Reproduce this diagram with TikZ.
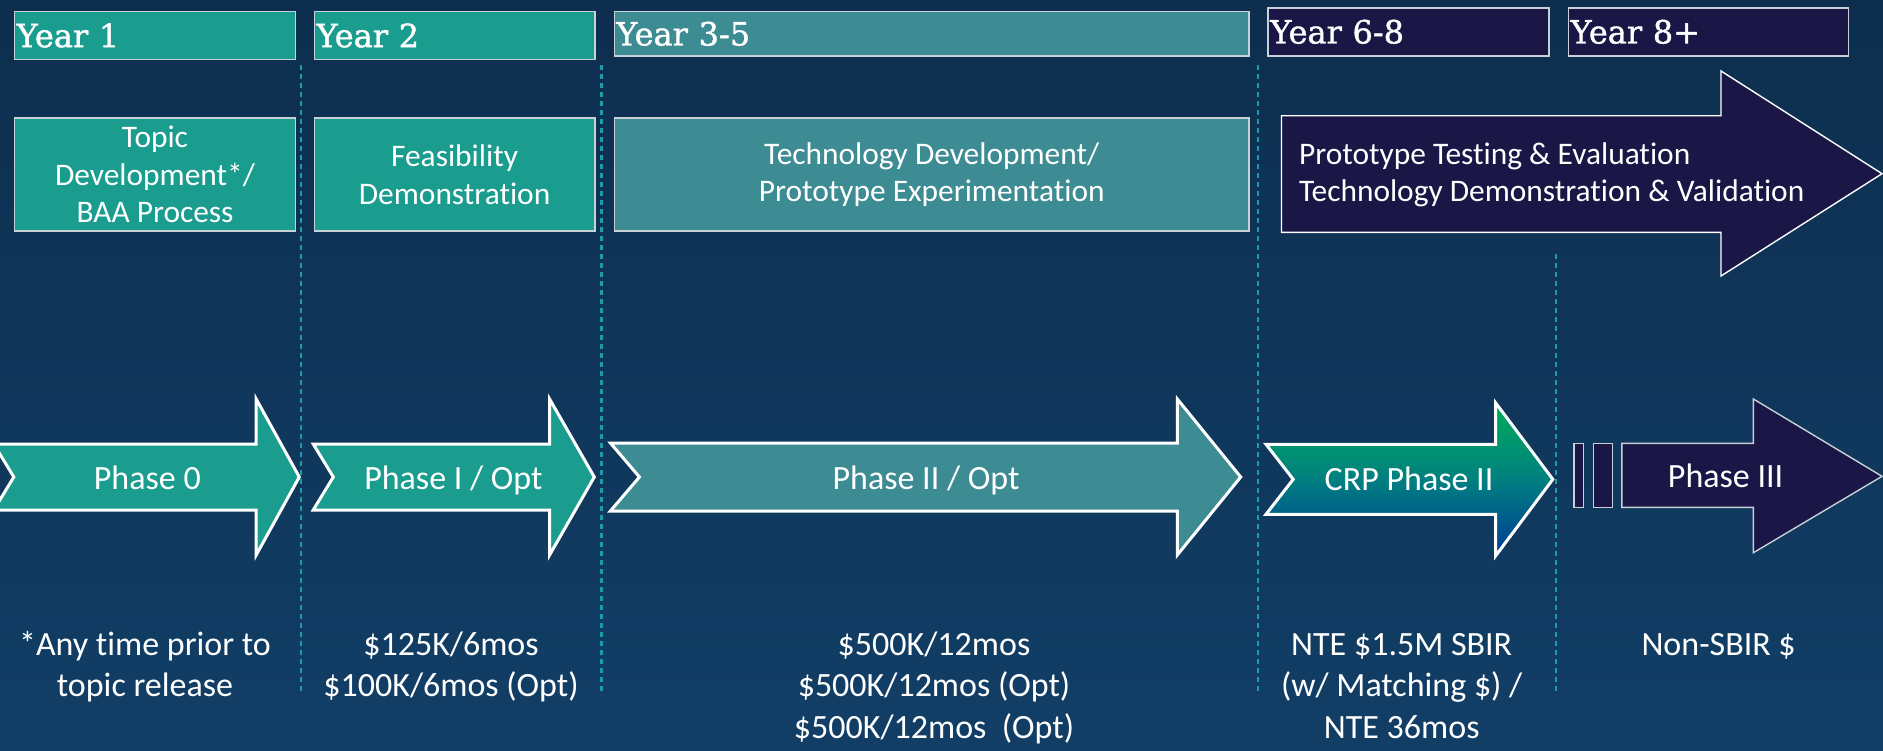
\documentclass[tikz,border=0pt]{standalone}
\usepackage{fontspec}
\setmainfont{Carlito}[Ligatures=NoCommon]
\newfontfamily\slabfont{DejaVu Serif}[FakeBold=1.2]
\definecolor{bgtop}{RGB}{13, 46, 78}
\definecolor{bgbot}{RGB}{18, 62, 102}
\definecolor{phteal}{RGB}{26, 157, 142}
\definecolor{phsteel}{RGB}{62, 140, 147}
\definecolor{phnavy}{RGB}{26, 22, 70}
\definecolor{crpgreen}{RGB}{0, 172, 88}
\definecolor{crpmid}{RGB}{0, 128, 128}
\definecolor{crpblue}{RGB}{0, 58, 150}
\definecolor{sepdash}{RGB}{30, 155, 170}
\definecolor{edgegray}{RGB}{200, 208, 216}
\usetikzlibrary{positioning, calc}

\tikzset{
  yearbox/.style={draw=edgegray, line width=0.8pt, anchor=north west, minimum height=24pt, inner xsep=1pt, inner ysep=0pt, align=left, text=white, font=\slabfont\fontsize{16}{19}\selectfont},
  stagebox/.style={draw=edgegray, line width=0.8pt, anchor=north west, minimum height=56.4pt, align=center, text=white, font=\fontsize{15.7}{18.8}\selectfont},
  phasearrow/.style={draw=white, line width=1.5pt, line join=miter},
  phasetext/.style={anchor=base, text=white, font=\fontsize{17}{20}\selectfont},
  costtext/.style={anchor=base, align=center, inner sep=0pt, text=white, font=\fontsize{17}{20.85}\selectfont},
  sepline/.style={sepdash, line width=1.2pt, dash pattern=on 2.5pt off 2pt}
}

\begin{document}
\begin{tikzpicture}[x=0.5pt, y=-0.5pt]
  \useasboundingbox (0,0) rectangle (1883,750);
  \clip (0,0) rectangle (1883,750);
  \shade[top color=bgtop, bottom color=bgbot] (0,0) rectangle (1883,750);

  % Separators
  \draw[sepline] (301,65) -- (301,695);
  \draw[sepline] (601.5,65) -- (601.5,695);
  \draw[sepline] (1258,65) -- (1258,695);
  \draw[sepline] (1556,254) -- (1556,695);

  % Years
  \node[yearbox, fill=phteal, minimum width=140.4pt, text width=138.4pt] (yr1) at (13.8,10.7) {Year 1};
  \node[yearbox, fill=phteal, minimum width=140.2pt, text width=138.2pt] (yr2) at (313.6,10.7) {Year 2};
  \node[yearbox, fill=phsteel, minimum width=317.4pt, text width=315.4pt, minimum height=22.3pt] (yr35) at (613.5,10.7) {Year 3-5};
  \node[yearbox, fill=phnavy, minimum width=140.3pt, text width=138.3pt] (yr68) at (1267.4,7) {Year 6-8};
  \node[yearbox, fill=phnavy, minimum width=139.9pt, text width=137.9pt] (yr8p) at (1567.7,7) {Year 8+};

  % Stages
  \node[stagebox, fill=phteal, minimum width=140.4pt] (topic) at (13.8,117.3) {Topic\\Development*/\\BAA Process};
  \node[stagebox, fill=phteal, minimum width=140.2pt] (feas) at (313.6,117.3) {Feasibility\\Demonstration};
  \node[stagebox, fill=phsteel, minimum width=317.4pt] (tech) at (613.5,117.3) {Technology Development/\\Prototype Experimentation};

  % Prototype arrow
  \draw[draw=white, line width=0.7pt, fill=phnavy] (1281.5,115.7) -- (1721,115.7) -- (1721,71) -- (1882,173.7) -- (1721,276) -- (1721,232.3) -- (1281.5,232.3) -- cycle;
  \node[anchor=west, align=left, text=white, font=\fontsize{15.7}{18.4}\selectfont] (proto) at (1292,175) {Prototype Testing \& Evaluation\\Technology Demonstration \& Validation};

  % Phases
  \draw[phasearrow, fill=phteal] (-6.2,444) -- (256.2,444) -- (256.2,399) -- (299.3,477) -- (256.2,555) -- (256.2,510) -- (-6.2,510) -- (13.8,477) -- cycle;
  \node[phasetext] (ph0) at (147.3,489.3) {Phase 0};
  \draw[phasearrow, fill=phteal] (313.2,444) -- (549.6,444) -- (549.6,399) -- (594.3,477) -- (549.6,555) -- (549.6,510) -- (313.2,510) -- (333.3,477) -- cycle;
  \node[phasetext] (ph1) at (453.4,489.3) {Phase I / Opt};
  \draw[phasearrow, fill=phsteel] (610.4,443) -- (1177.3,443) -- (1177.3,399) -- (1240.7,477) -- (1177.3,555) -- (1177.3,511) -- (610.4,511) -- (639.4,477) -- cycle;
  \node[phasetext] (ph2) at (926,489.3) {Phase II / Opt};
  \draw[phasearrow, top color=crpgreen, bottom color=crpblue, middle color=crpmid] (1266,444.3) -- (1495.5,444.3) -- (1495.5,402.7) -- (1552.8,479.3) -- (1495.5,556) -- (1495.5,514.3) -- (1266,514.3) -- (1293.2,479.3) -- cycle;
  \node[phasetext] (crp) at (1409,490.5) {CRP Phase II};

  % Phase III with break bars
  \draw[draw=edgegray, line width=0.7pt, fill=phnavy] (1573.8,443.3) rectangle (1583.5,507.3);
  \draw[draw=edgegray, line width=0.7pt, fill=phnavy] (1593.6,443.3) rectangle (1612.5,507.3);
  \draw[draw=edgegray, line width=0.7pt, fill=phnavy] (1621.8,443.3) -- (1753.4,443.3) -- (1753.4,399) -- (1882,476.3) -- (1753.4,552.7) -- (1753.4,507.3) -- (1621.8,507.3) -- cycle;
  \node[phasetext] (ph3) at (1725.6,487) {Phase III};

  % Funding (placed at last baseline)
  \node[costtext] (cost0) at (145,696.7) {*Any time prior to\\topic release};
  \node[costtext] (cost1) at (451,696.7) {\$125K/6mos\\\$100K/6mos (Opt)};
  \node[costtext] (cost2) at (934,738.4) {\$500K/12mos\\\$500K/12mos (Opt)\\\$500K/12mos\ \ (Opt)};
  \node[costtext] (cost3) at (1401.7,738.4) {NTE \$1.5M SBIR\\(w/ Matching \$) /\\NTE 36mos};
  \node[costtext] (cost4) at (1718.6,655) {Non-SBIR \$};
\end{tikzpicture}
\end{document}
